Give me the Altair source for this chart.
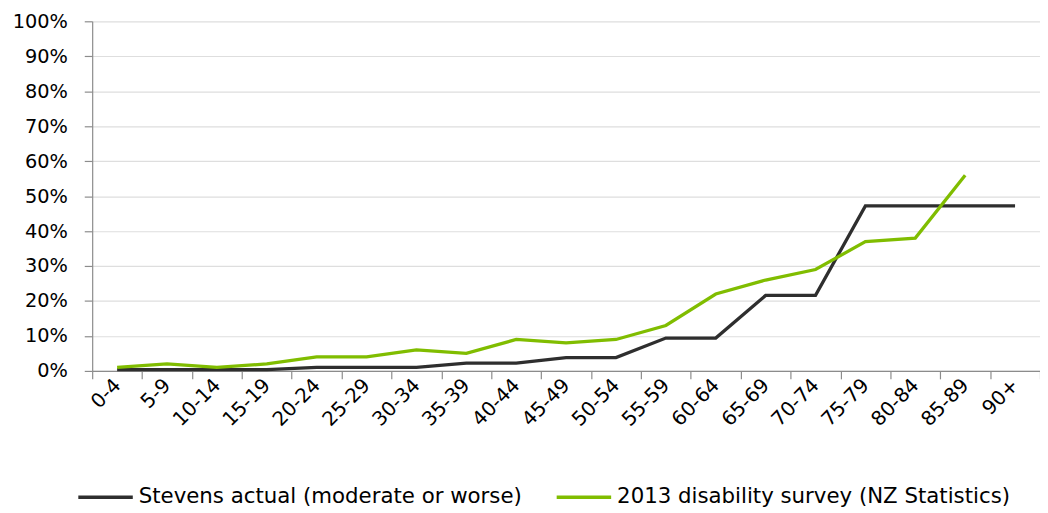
import altair as alt
import pandas as pd

ages = ["0-4", "5-9", "10-14", "15-19", "20-24", "25-29", "30-34", "35-39", "40-44",
        "45-49", "50-54", "55-59", "60-64", "65-69", "70-74", "75-79", "80-84", "85-89", "90+"]
stevens = [0.4, 0.4, 0.4, 0.4, 1.0, 1.0, 1.0, 2.2, 2.2, 3.8, 3.8, 9.4, 9.4, 21.6, 21.6,
           47.2, 47.2, 47.2, 47.2]
survey = [1.0, 2.0, 1.0, 2.0, 4.0, 4.0, 6.0, 5.0, 9.0, 8.0, 9.0, 13.0, 22.0, 26.0, 29.0,
          37.0, 38.0, 56.0, None]
series_names = ["Stevens actual (moderate or worse)", "2013 disability survey (NZ Statistics)"]
series_colors = ["#2e2e2e", "#80bd00"]
y_ticks = [0, 0.1, 0.2, 0.3, 0.4, 0.5, 0.6, 0.7, 0.8, 0.9, 1.0]

rows = []
for a, s, g in zip(ages, stevens, survey):
    rows.append({"age": a, "series": series_names[0], "value": s / 100})
    if g is not None:
        rows.append({"age": a, "series": series_names[1], "value": g / 100})
df = pd.DataFrame(rows)

FONT = "DejaVu Sans"

x = alt.X("age:N", sort=ages, title=None,
          scale=alt.Scale(type="band", domain=ages, paddingInner=0, paddingOuter=0),
          axis=alt.Axis(tickBand="extent", labelAngle=-45, labelAlign="right", labelBaseline="middle",
                        labelFontSize=20, labelFont=FONT,
                        labelColor="#000000", domainColor="#8c8c8c", tickColor="#8c8c8c",
                        tickSize=8, labelPadding=3, grid=False, domainWidth=1.2, tickWidth=1.2))
y = alt.Y("value:Q", title=None,
          scale=alt.Scale(domain=[0, 1], nice=False),
          axis=alt.Axis(values=y_ticks, format=".0%", labelFontSize=19.5, labelFont=FONT,
                        labelColor="#000000", domainColor="#8c8c8c", tickColor="#8c8c8c",
                        tickSize=8, labelPadding=17, gridColor="#dedede", gridWidth=1.2,
                        domainWidth=1.2, tickWidth=1.2))
color = alt.Color("series:N", title=None,
                  scale=alt.Scale(domain=series_names, range=series_colors),
                  legend=alt.Legend(orient="none", legendX=-16, legendY=451, direction="horizontal",
                                    symbolType="stroke", symbolSize=3025, symbolStrokeWidth=3.5,
                                    labelFontSize=21.5, labelFont=FONT, labelColor="#000000",
                                    labelOffset=4, columnPadding=27, labelLimit=700))

base = alt.Chart(df)
black = base.transform_filter(alt.datum.series == series_names[0]).mark_line(strokeWidth=3.3).encode(
    x=x, y=y, color=color)
green = base.transform_filter(alt.datum.series == series_names[1]).mark_line(strokeWidth=3.3).encode(
    x=x, y=y, color=color)

chart = alt.layer(black, green).properties(
    width=957, height=353,
    autosize=alt.AutoSizeParams(type="none"),
    padding={"left": 85, "top": 11, "right": 0, "bottom": 140},
).configure_view(stroke=None)

chart.save("out.html", embed_options={"renderer": "svg", "actions": False})
